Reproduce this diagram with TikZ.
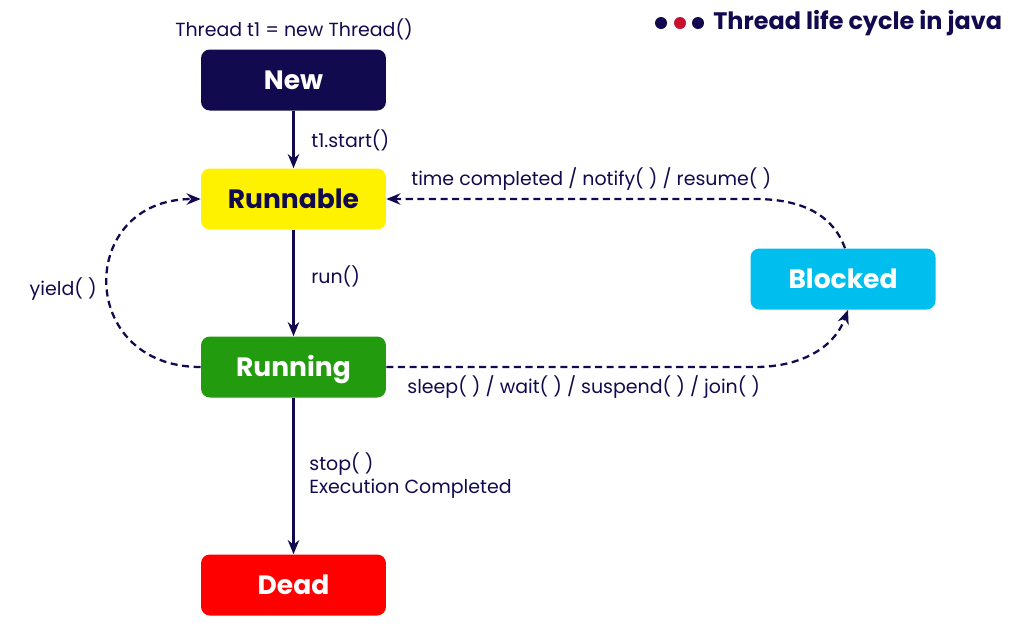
\documentclass[tikz,border=0pt]{standalone}
\usepackage{fontspec}
\setmainfont{Poppins}
\usetikzlibrary{arrows.meta,positioning}
\definecolor{navy}{HTML}{120A4E}
\definecolor{dotred}{HTML}{C8102E}
\definecolor{runyellow}{HTML}{FFF200}
\definecolor{rungreen}{HTML}{239B0E}
\definecolor{deadred}{HTML}{FF0000}
\definecolor{blockblue}{HTML}{00BFEF}
\tikzset{
  state/.style={rounded corners=5pt, minimum width=3.7cm, minimum height=1.22cm,
    text height=10.6pt, text depth=0pt,
    font=\fontsize{15.1}{16}\selectfont\bfseries, text=white},
  lbl/.style={font=\fontsize{10.8}{12}\selectfont, text=navy, inner sep=0pt},
  flow/.style={-{Stealth[length=8pt,width=6.5pt]}, navy, line width=1.3pt},
  waitflow/.style={flow, dash pattern=on 4pt off 2.6pt}
}
\begin{document}
\begin{tikzpicture}[x=0.02cm, y=-0.02cm]
\useasboundingbox (0,0) rectangle (1016,627);

% Title
\fill[navy] (661,23) circle (6);
\fill[dotred] (680,23) circle (6);
\fill[navy] (698,23) circle (6);
\node[anchor=west, inner sep=0pt, text=navy, font=\fontsize{13.6}{15}\selectfont\bfseries] (title) at (713,23) {Thread life cycle in java};

% States
\node[state, fill=navy] (new) at (293.5,80) {New};
\node[state, fill=runyellow, text=navy] (runnable) at (293.5,199) {Runnable};
\node[state, fill=rungreen] (running) at (293.5,367) {Running};
\node[state, fill=deadred] (dead) at (293.5,585) {Dead};
\node[state, fill=blockblue] (blocked) at (843,279) {Blocked};

% Transitions
\node[lbl] (create) at (294,29) {Thread t1 = new Thread()};
\draw[flow] (new) -- (runnable);
\node[lbl, anchor=west] (start) at (311,140) {t1.start()};
\draw[flow] (runnable) -- (running);
\node[lbl, anchor=west] (run) at (311,276) {run()};
\draw[flow] (running) -- (dead);
\node[lbl, anchor=west] (stop) at (309,464) {stop( )};
\node[lbl, anchor=west] (done) at (309,489) {Execution Completed};

% Dashed loops
\draw[waitflow] (running.west) to[out=180, in=180, looseness=1.9] (runnable.west);
\node[lbl, anchor=east] (yield) at (97,289) {yield( )};
\draw[waitflow] (running.east) -- (755,367) to[out=0, in=-110] ([xshift=0.1cm]blocked.south);
\node[lbl, anchor=west] (sleep) at (407,387) {sleep( ) / wait( ) / suspend( ) / join( )};
\draw[waitflow] ([xshift=0.04cm]blocked.north) to[out=110, in=0] (755,199) -- (runnable.east);
\node[lbl, anchor=west] (notify) at (411,179) {time completed / notify( ) / resume( )};
\end{tikzpicture}
\end{document}
